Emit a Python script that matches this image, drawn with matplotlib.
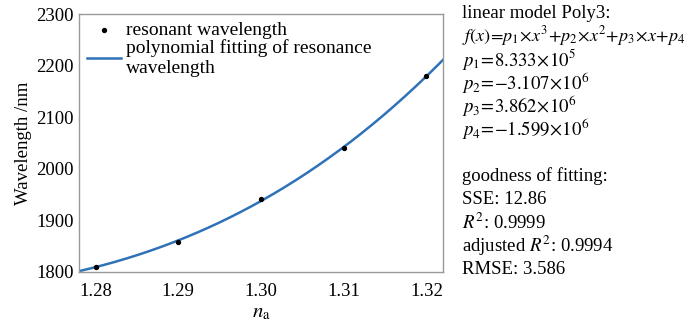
import numpy as np
import matplotlib
matplotlib.use("Agg")
import matplotlib.pyplot as plt

plt.rcParams['font.family'] = ['Liberation Serif', 'DejaVu Serif']
plt.rcParams['mathtext.fontset'] = 'stix'

na = [1.28, 1.29, 1.30, 1.31, 1.32]
wavelength = [1810, 1859, 1941, 2040, 2180]
xticks = [1.28, 1.29, 1.30, 1.31, 1.32]
xticklabels = ['1.28', '1.29', '1.30', '1.31', '1.32']
yticks = [1800, 1900, 2000, 2100, 2200, 2300]

info_lines = [
    'linear model Poly3:',
    r'$f(x)\!=\!p_1\!\times\! x^3\!+\!p_2\!\times\! x^2\!+\!p_3\!\times\! x\!+\!p_4$',
    r'$p_1\!=\!\mathrm{8.333}\!\times\!\mathrm{10}^5$',
    r'$p_2\!=\!{-}\mathrm{3.107}\!\times\!\mathrm{10}^6$',
    r'$p_3\!=\!\mathrm{3.862}\!\times\!\mathrm{10}^6$',
    r'$p_4\!=\!{-}\mathrm{1.599}\!\times\!\mathrm{10}^6$',
    '',
    'goodness of fitting:',
    'SSE: 12.86',
    r'$R^2$: 0.9999',
    r'adjusted $R^2$: 0.9994',
    'RMSE: 3.586',
]

fig = plt.figure(figsize=(6.94, 3.26), dpi=100)
ax = fig.add_axes([79/694, 1 - 272/326, (443-79)/694, (272-14)/326])

coef = np.polyfit(na, wavelength, 3)
xs = np.linspace(1.278, 1.322, 300)
ax.plot(xs, np.polyval(coef, xs), color='#2f72b7', lw=1.8,
        label='polynomial fitting of resonance\nwavelength')
ax.scatter(na, wavelength, s=8, color='black', zorder=3, label='resonant wavelength')

ax.set_xlim(1.278, 1.322)
ax.set_ylim(1800, 2300)
ax.set_xticks(xticks)
ax.set_xticklabels(xticklabels)
ax.set_yticks(yticks)
ax.tick_params(length=0, labelsize=13.5)
ax.tick_params(axis='x', pad=8)
ax.tick_params(axis='y', pad=4)
for s in ax.spines.values():
    s.set_color('#999999')
    s.set_linewidth(1.0)
ax.set_ylabel('Wavelength /nm', fontsize=13.5, labelpad=3)
ax.set_xlabel(r'$n_\mathrm{a}$', fontsize=15, labelpad=2)

h, l = ax.get_legend_handles_labels()
ax.legend([h[1], h[0]], [l[1], l[0]], loc='upper left', frameon=False,
          fontsize=14, handlelength=1.75, handletextpad=0.25,
          borderaxespad=0.1, labelspacing=0.0, borderpad=0.3)

y0 = 13
for i, t in enumerate(info_lines):
    if t:
        fs = 13.0 if i == 1 else 13.5
        fig.text(462/694, 1 - (y0 + i * 23.3)/326, t, fontsize=fs,
                 va='center', ha='left')

fig.savefig('out.png', dpi=100)
